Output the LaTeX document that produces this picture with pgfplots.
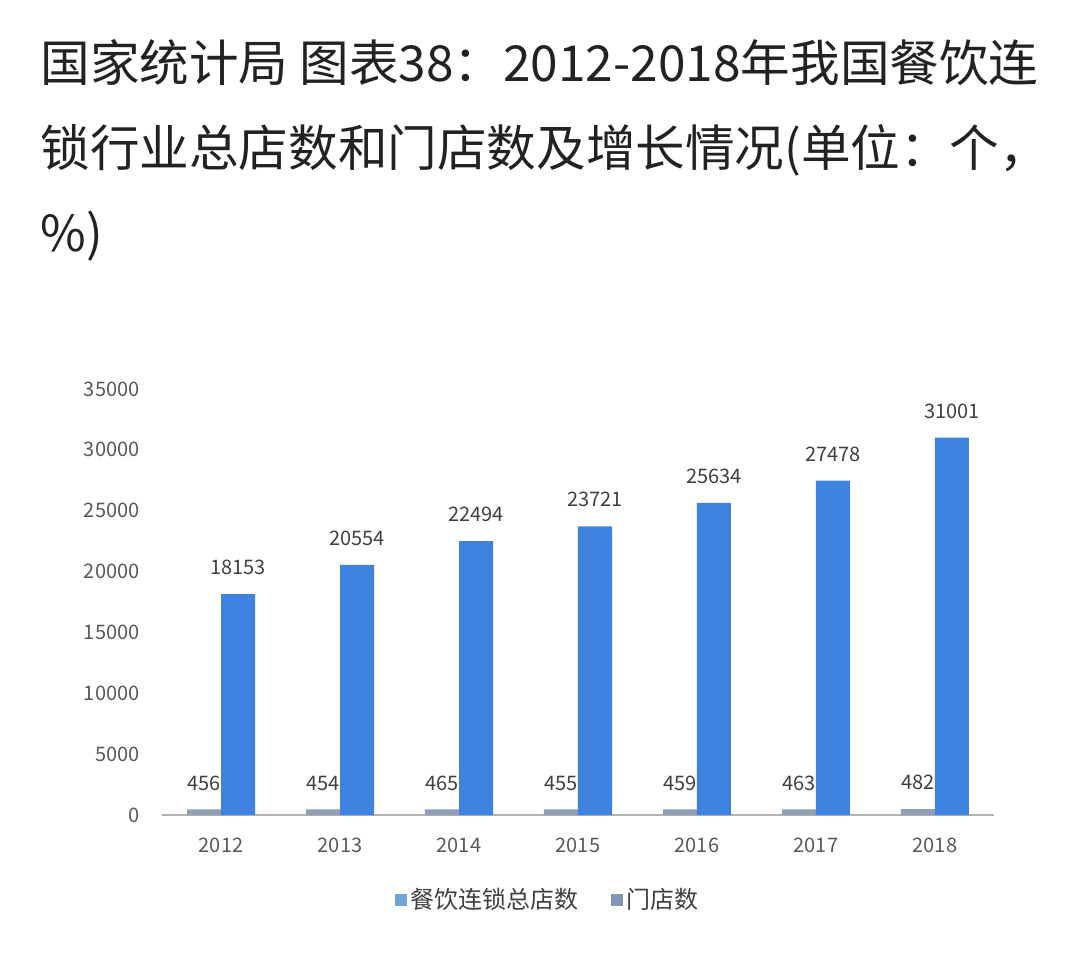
\documentclass[border=0pt]{standalone}
\usepackage{pgfplots}
\pgfplotsset{compat=1.18}
\usepackage{fontspec}
\setmainfont{Noto Sans CJK SC}
\definecolor{barA}{HTML}{8E9FB6}
\definecolor{barB}{HTML}{3F83E0}
\definecolor{legA}{HTML}{6FA8D8}
\definecolor{legB}{HTML}{7F98B8}
\definecolor{ticktxt}{HTML}{595959}
\definecolor{titletxt}{HTML}{222222}
\begin{document}
\begin{tikzpicture}
\useasboundingbox (0pt,0pt) rectangle (540pt,489.5pt);
\node[anchor=north west, align=left, font=\fontsize{24.8}{42.5}\selectfont, text=titletxt, inner sep=0pt]
  at (20pt,470pt) {国家统计局 图表38：2012-2018年我国餐饮连\\锁行业总店数和门店数及增长情况(单位：个，\\\%)};
\begin{axis}[
  at={(80.75pt,82pt)}, anchor=south west,
  scale only axis, width=416.5pt, height=213pt,
  xmin=-0.5, xmax=6.5, ymin=0, ymax=35000,
  ybar=0pt, bar width=17pt,
  axis lines*=left,
  axis line style={draw=gray!60, line width=1pt},
  y axis line style={draw=none},
  xtick={0,...,6}, xticklabels={2012,2013,2014,2015,2016,2017,2018},
  ytick={0,5000,...,35000},
  major tick length=0pt,
  /pgf/number format/.cd, 1000 sep={}, assume math mode=true, /pgfplots/.cd,
  ticklabel style={font=\fontsize{10}{12}\selectfont, text=ticktxt},
  xticklabel style={yshift=-8pt},
  yticklabel style={xshift=-7.5pt},
  scaled y ticks=false,
  nodes near coords,
  nodes near coords style={font=\fontsize{10}{12}\selectfont, text=black!75, yshift=6pt,
    /pgf/number format/.cd, 1000 sep={}, assume math mode=true},
  legend style={at={(0.465,-0.2)}, anchor=center, draw=none, legend columns=2,
    font=\fontsize{12}{14}\selectfont, text=black!75,
    /tikz/every even column/.append style={column sep=14pt}},
]
\addplot[fill=barA, draw=none, legend image code/.code={\fill[legA] (0pt,-3pt) rectangle (6pt,3pt);}] coordinates {(0,456) (1,454) (2,465) (3,455) (4,459) (5,463) (6,482)};
\addlegendentry{餐饮连锁总店数}
\addplot[fill=barB, draw=none, legend image code/.code={\fill[legB] (0pt,-3pt) rectangle (6pt,3pt);}] coordinates {(0,18153) (1,20554) (2,22494) (3,23721) (4,25634) (5,27478) (6,31001)};
\addlegendentry{门店数}
\end{axis}
\end{tikzpicture}
\end{document}
